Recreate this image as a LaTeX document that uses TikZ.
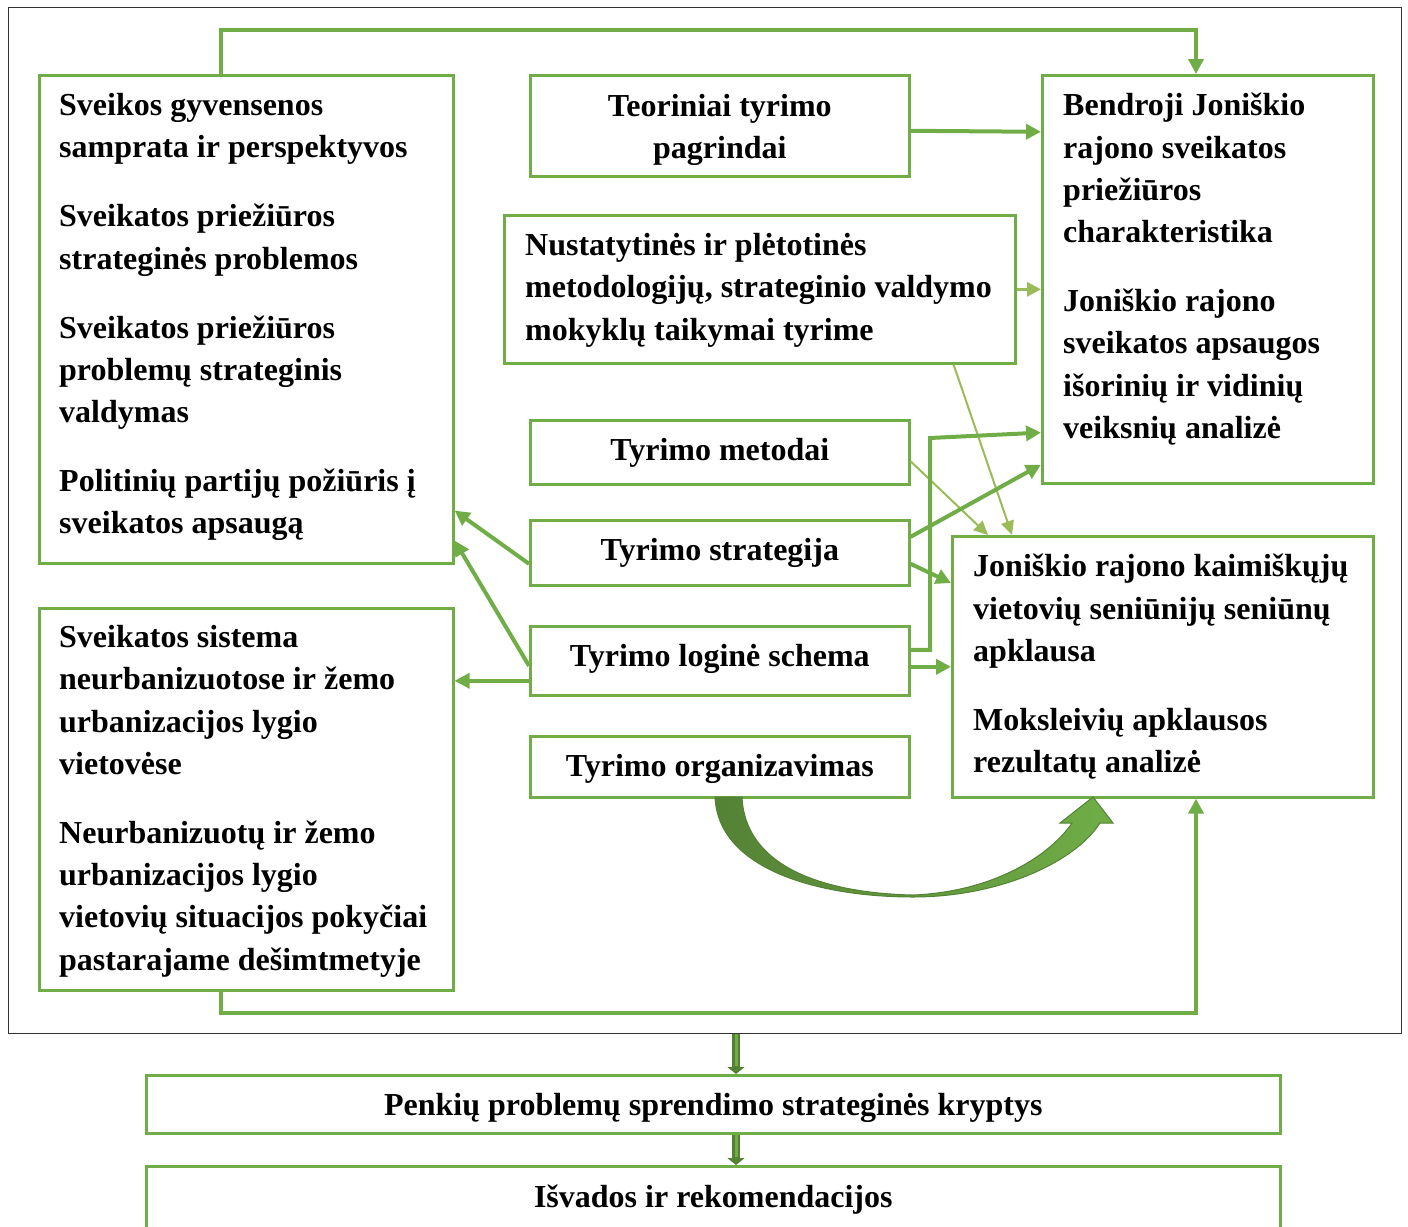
\documentclass[tikz,border=0pt]{standalone}
\usepackage{fontspec}
\setmainfont{Liberation Serif}
\usetikzlibrary{arrows.meta,calc}
\definecolor{gr}{HTML}{70AD47}
\definecolor{lg}{HTML}{9BBB59}
\definecolor{dg}{HTML}{548235}
\begin{document}
\begin{tikzpicture}[x=1pt,y=-1pt,
  box/.style={draw=gr, line width=2.6pt, inner sep=0pt, anchor=north west, align=center,
    font=\fontsize{32}{42.3}\selectfont\bfseries},
  txt/.style={inner sep=0pt, anchor=north west, align=left,
    font=\fontsize{32}{42.3}\selectfont\bfseries},
  thk/.style={draw=gr, line width=4pt, -{Triangle[length=15pt,width=15pt]}},
  midarr/.style={draw=lg, line width=3pt, -{Triangle[length=14pt,width=14pt]}},
  thn/.style={draw=lg, line width=2pt, -{Triangle[length=14pt,width=13pt]}},
]
\useasboundingbox (0,0) rectangle (1408,1226);
% outer frame
\node[draw=black!80, line width=1.3pt, anchor=north west, inner sep=0pt,
      minimum width=1393pt, minimum height=1026pt] (frame) at (8,7) {};
% boxes
\node[box, minimum width=414pt, minimum height=488pt] (A) at (38,74) {};
\node[box, minimum width=414pt, minimum height=382pt] (B) at (38,607) {};
\node[box, minimum width=379pt, minimum height=101pt] (C) at (529,74) {\rule{0pt}{30pt}Teoriniai tyrimo\\pagrindai};
\node[box, minimum width=511pt, minimum height=148pt] (D) at (503,214) {};
\node[box, text height=24pt, minimum width=379pt, minimum height=64pt] (E) at (529,419) {Tyrimo metodai};
\node[box, text height=22pt, minimum width=379pt, minimum height=65pt] (F) at (529,519) {Tyrimo strategija};
\node[box, text height=18pt, minimum width=379pt, minimum height=69pt] (G) at (529,625) {Tyrimo loginė schema};
\node[box, text height=26pt, minimum width=379pt, minimum height=61pt] (H) at (529,735) {Tyrimo organizavimas};
\node[box, minimum width=331pt, minimum height=408pt] (I) at (1041,74) {};
\node[box, minimum width=421pt, minimum height=261pt] (J) at (951,535) {};
\node[box, text height=30pt, minimum width=1134pt, minimum height=58pt] (K) at (145,1074) {Penkių problemų sprendimo strateginės kryptys};
\node[box, text height=26pt, minimum width=1134pt, minimum height=64pt] (L) at (145,1165) {Išvados ir rekomendacijos};
% texts
\node[txt] (tA) at (59,93) {Sveikos gyvensenos\\samprata ir perspektyvos\\[26.7pt]Sveikatos priežiūros\\strateginės problemos\\[26.7pt]Sveikatos priežiūros\\problemų strateginis\\valdymas\\[26.7pt]Politinių partijų požiūris į\\sveikatos apsaugą};
\node[txt] (tB) at (59,625) {Sveikatos sistema\\neurbanizuotose ir žemo\\urbanizacijos lygio\\vietovėse\\[26.7pt]Neurbanizuotų ir žemo\\urbanizacijos lygio\\vietovių situacijos pokyčiai\\pastarajame dešimtmetyje};
\node[txt] (tD) at (525,233) {Nustatytinės ir plėtotinės\\metodologijų, strateginio valdymo\\mokyklų taikymai tyrime};
\node[txt] (tI) at (1063,93) {Bendroji Joniškio\\rajono sveikatos\\priežiūros\\charakteristika\\[26.7pt]Joniškio rajono\\sveikatos apsaugos\\išorinių ir vidinių\\veiksnių analizė};
\node[txt] (tJ) at (973,554) {Joniškio rajono kaimiškųjų\\vietovių seniūnijų seniūnų\\apklausa\\[26.7pt]Moksleivių apklausos\\rezultatų analizė};
% helper coordinates
\coordinate (cL) at (221,0);
\coordinate (cR) at (1196,0);
\coordinate (yT) at (0,30);
\coordinate (yB) at (0,1013);
\coordinate (xG) at (930,0);
\coordinate (yI) at (0,438);
\coordinate (xM) at (736,0);
% connectors
\draw[thk] (A.north -| cL) -- (cL |- yT) -- (cR |- yT) -- (I.north -| cR);
\draw[thk] (B.south -| cL) -- (cL |- yB) -- (cR |- yB) -- (J.south -| cR);
\draw[thk] ($(C.east)+(0,5)$) -- ($(C.east -| I.west)+(0,6)$);
\draw[midarr] (D.east) -- (D.east -| I.west);
\draw[thn] ($(D.south east)+(-63,0)$) -- ($(J.north west)+(61,0)$);
\draw[thn] ($(E.east)+(0,9)$) -- ($(J.north west)+(37,0)$);
\draw[thk] ($(F.east)+(0,-16)$) -- ($(I.south west)+(0,-20)$);
\draw[thk] ($(F.east)+(0,11)$) -- ($(J.north west)+(0,48)$);
\coordinate (g1) at ($(G.east)+(0,-11)$);
\draw[thk] (g1) -- (g1 -| xG) -- (xG |- yI) -- ($(I.south west)+(0,-52)$);
\coordinate (g2) at ($(G.east)+(0,6)$);
\draw[thk] (g2) -- (g2 -| J.west);
\draw[thk] ($(F.west)+(0,11)$) -- ($(A.south east)+(0,-54)$);
\draw[thk] ($(G.west)+(0,5)$) -- ($(A.south east)+(0,-24)$);
\coordinate (g3) at ($(G.west)+(0,20)$);
\draw[thk] (g3) -- (g3 -| B.east);
% double arrows at bottom
\draw[draw=dg, line width=8pt, -{Triangle[length=7pt,width=17pt]}] (frame.south -| xM) -- (K.north -| xM);
\draw[draw=gr, line width=3pt, shorten >=8pt] (frame.south -| xM) -- (K.north -| xM);
\draw[draw=dg, line width=8pt, -{Triangle[length=7pt,width=17pt]}] (K.south -| xM) -- (L.north -| xM);
\draw[draw=gr, line width=3pt, shorten >=8pt] (K.south -| xM) -- (L.north -| xM);
% curved arrow from H to J
\path[draw=dg, line width=1pt, left color=dg, right color=gr]
  (715,797) .. controls (718,870) and (820,897) .. (913,897)
  .. controls (1000,897) and (1075,862) .. (1100,823)
  -- (1113,823) -- (1093,797) -- (1060,823) -- (1072,823)
  .. controls (1048,858) and (990,892) .. (913,895)
  .. controls (820,893) and (745,865) .. (742,797) -- cycle;
\end{tikzpicture}
\end{document}
